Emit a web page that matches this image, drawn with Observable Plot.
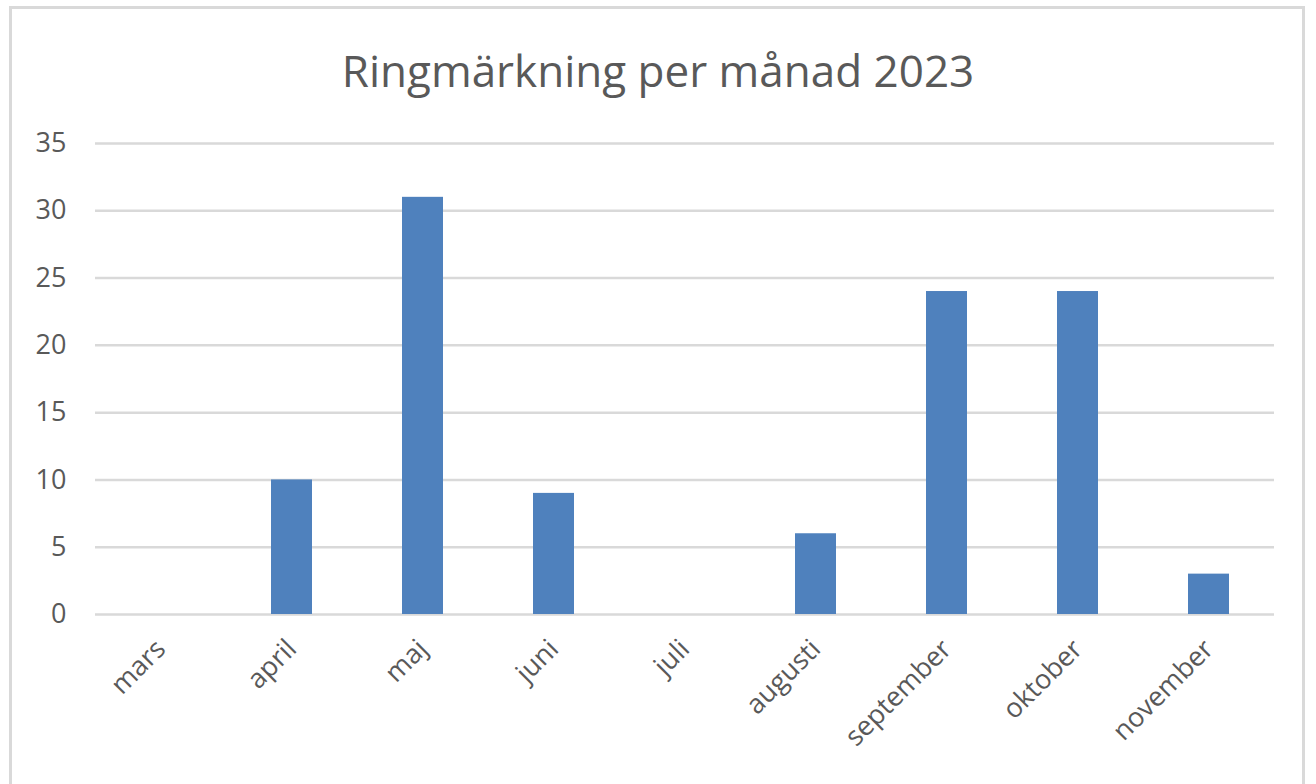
<!DOCTYPE html>
<html>
<head>
<meta charset="utf-8">
<script src="https://cdn.jsdelivr.net/npm/d3@7"></script>
<script src="https://cdn.jsdelivr.net/npm/@observablehq/plot@0.6"></script>
<style>
  html, body { margin: 0; padding: 0; background: #fff; }
  body { width: 1316px; height: 784px; position: relative; overflow: hidden; font-family: "Open Sans", sans-serif; }
  #frame { position: absolute; left: 9px; top: 6px; width: 1296px; height: 820px; border: 3px solid #d9d9d9; box-sizing: border-box; }
  #title { position: absolute; left: 0; top: 40px; width: 1316px; text-align: center; font-size: 44px; color: #595959; line-height: 60px; }
  #chart { position: absolute; left: 0; top: 0; }
</style>
</head>
<body>
<div id="frame"></div>
<div id="title">Ringmärkning per månad 2023</div>
<div id="chart"></div>
<script>
const months = ["mars", "april", "maj", "juni", "juli", "augusti", "september", "oktober", "november"];
const counts = [0, 10, 31, 9, 0, 6, 24, 24, 3];
const yTicks = [0, 5, 10, 15, 20, 25, 30, 35];

const data = months.map((m, i) => ({month: m, value: counts[i]}));

const chart = Plot.plot({
  width: 1316,
  height: 784,
  marginLeft: 95,
  marginRight: 42,
  marginTop: 143,
  marginBottom: 170,
  style: {fontFamily: "Open Sans, sans-serif", fontSize: "27px", color: "#595959", background: "transparent"},
  x: {domain: months, paddingInner: 0.69, paddingOuter: 0.345, label: null},
  y: {domain: [0, 35], label: null},
  marks: [
    Plot.ruleY(yTicks, {stroke: "#d9d9d9", strokeWidth: 2.5}),
    Plot.barY(data, {x: "month", y: "value", fill: "#4f81bd"}),
    Plot.axisY({ticks: yTicks, tickSize: 0, tickPadding: 29, label: null, fill: "#595959"}),
    Plot.axisX({tickSize: 0, tickRotate: -45, tickPadding: 30, label: null, fill: "#595959"})
  ]
});
document.getElementById("chart").appendChild(chart);
</script>
</body>
</html>
